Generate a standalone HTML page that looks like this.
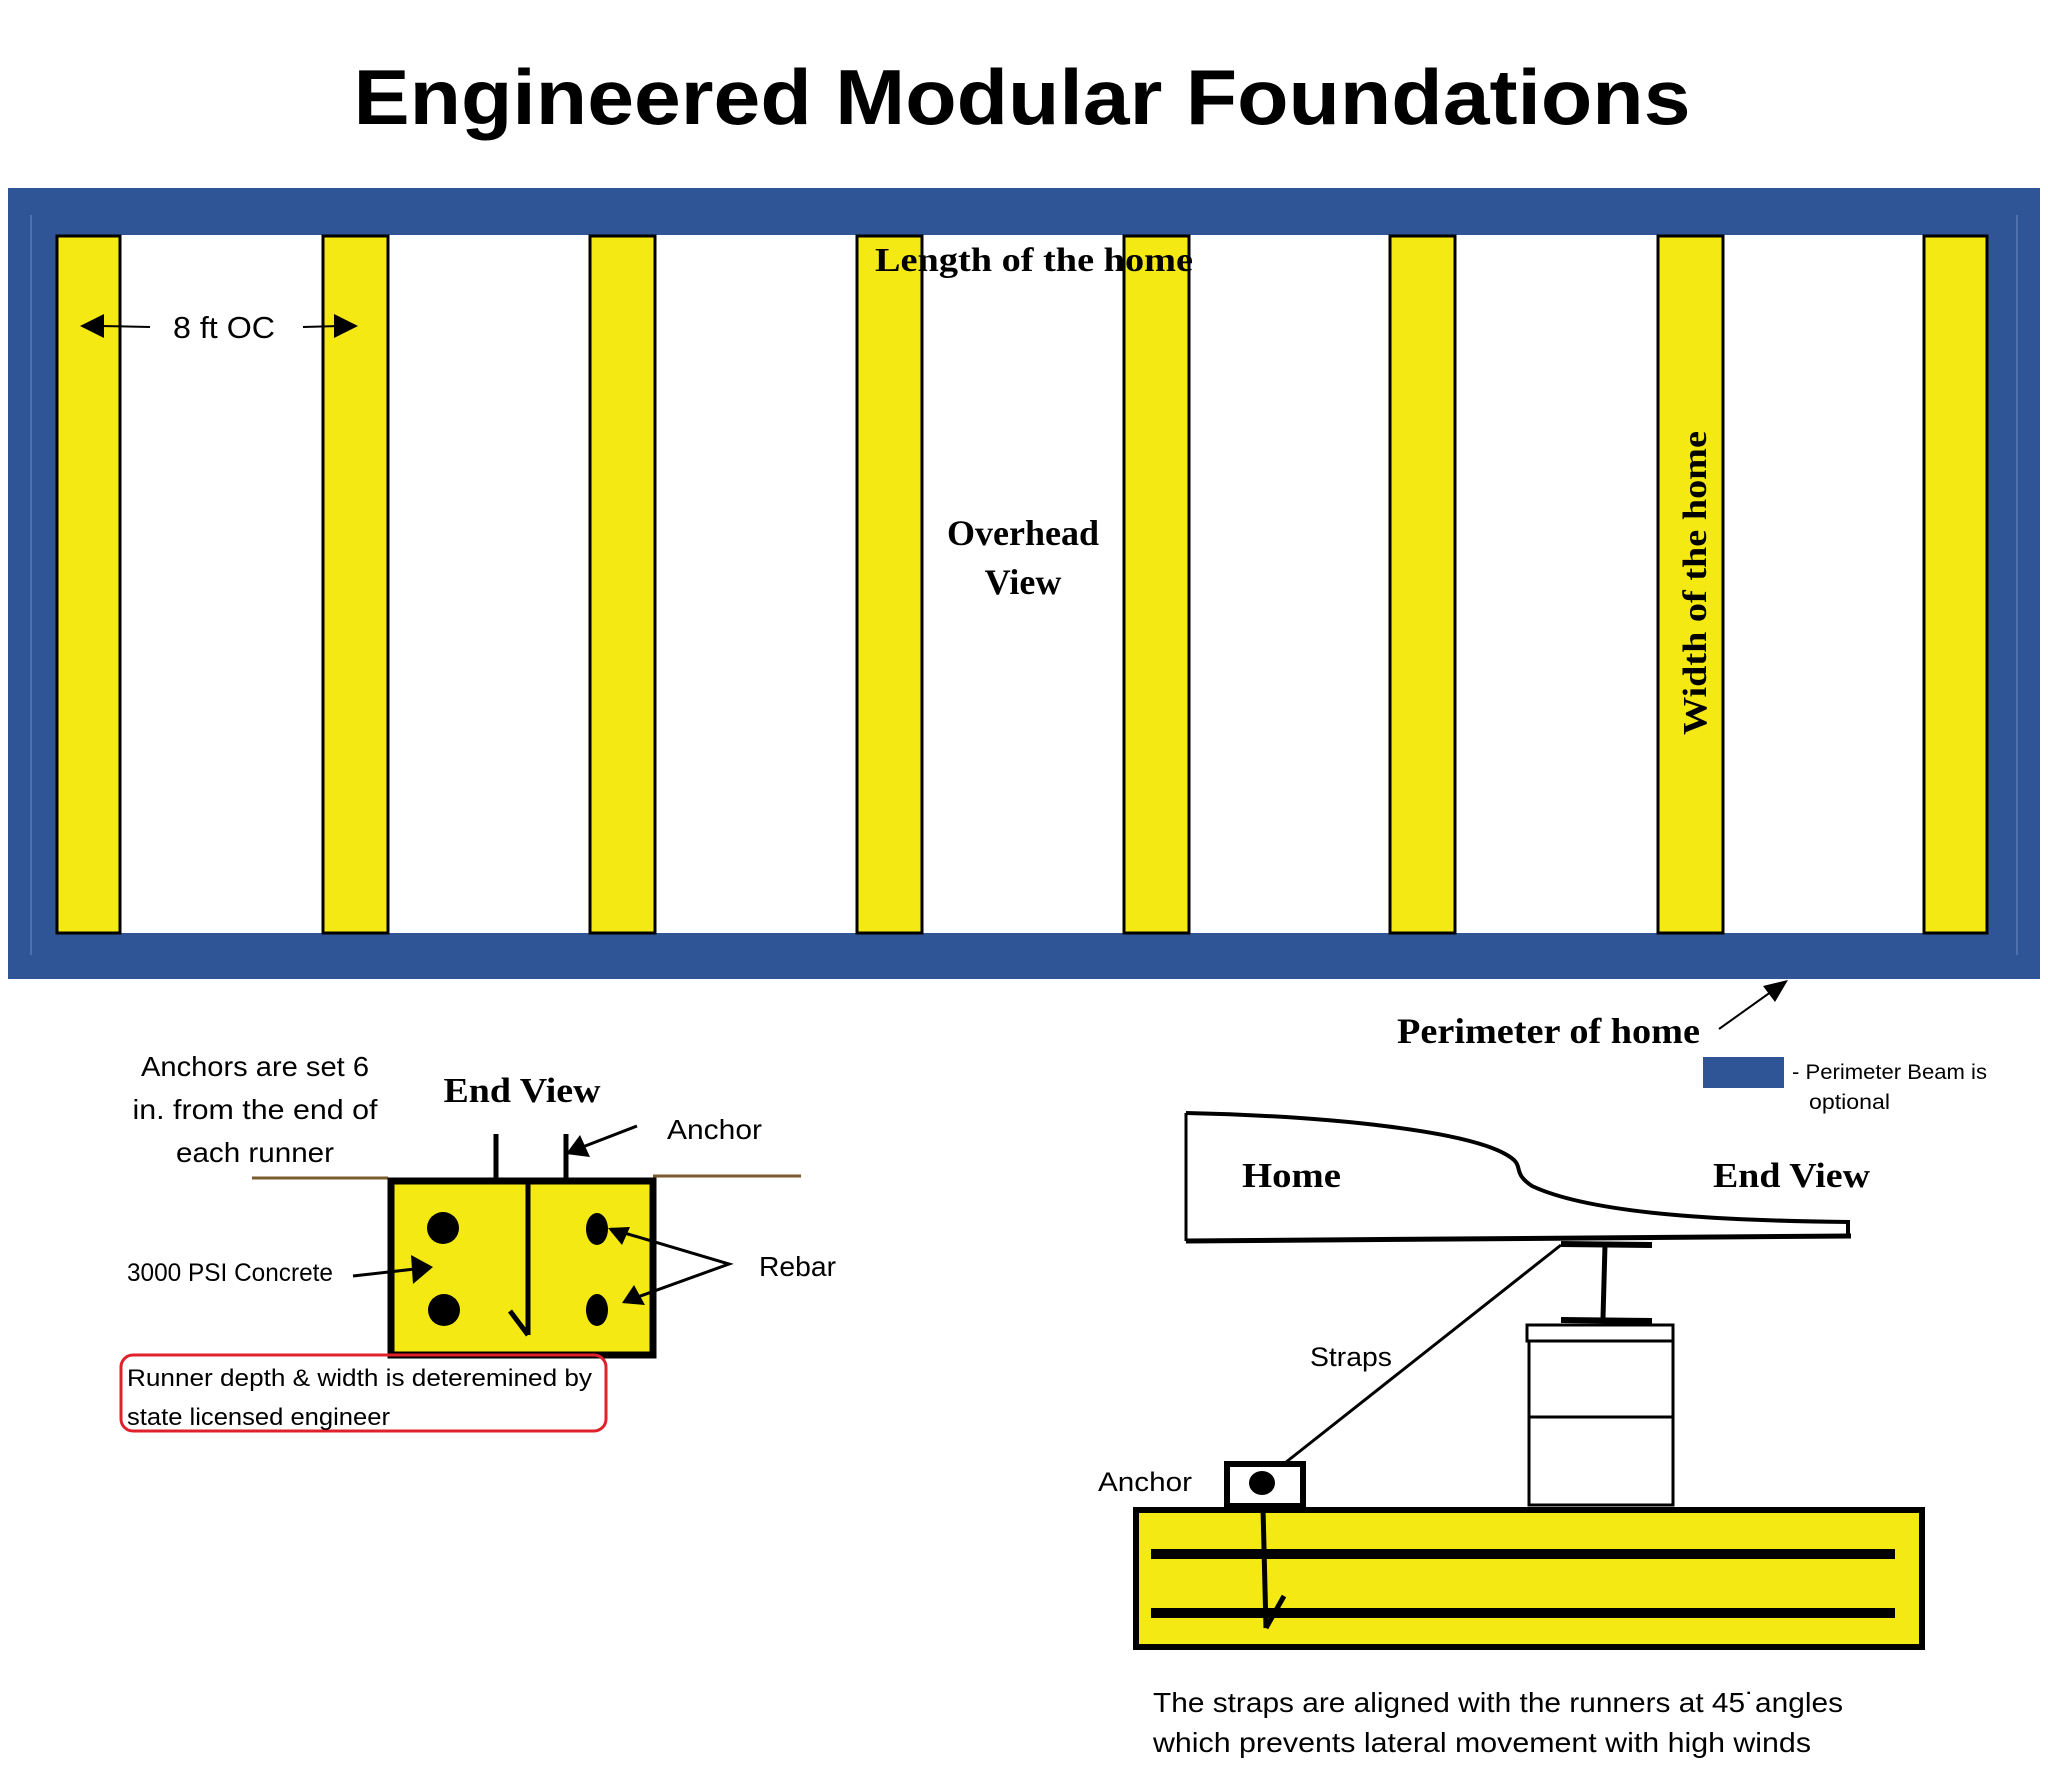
<!DOCTYPE html>
<html><head><meta charset="utf-8"><style>
html,body{margin:0;padding:0;background:#fff;}
svg{display:block;}
.sans{font-family:"Liberation Sans",sans-serif;}
.serif{font-family:"Liberation Serif",serif;font-weight:bold;}
</style></head><body>
<svg width="2048" height="1768" viewBox="0 0 2048 1768" xmlns="http://www.w3.org/2000/svg">
<defs>
<marker id="ah" markerWidth="10" markerHeight="10" refX="9" refY="5" orient="auto" markerUnits="userSpaceOnUse" viewBox="0 0 10 10">
</marker>
</defs>
<rect width="2048" height="1768" fill="#fff"/>
<!-- Title -->
<text x="1022" y="124" text-anchor="middle" class="sans" font-weight="bold" font-size="78" textLength="1337" lengthAdjust="spacingAndGlyphs">Engineered  Modular  Foundations</text>

<!-- Overhead frame -->
<rect x="8" y="188" width="2032" height="791" fill="#2f5597"/>
<line x1="31" y1="215" x2="31" y2="955" stroke="#6f8cc0" stroke-width="1"/>
<line x1="2017" y1="215" x2="2017" y2="955" stroke="#6f8cc0" stroke-width="1"/>
<rect x="57" y="235" width="1931" height="698" fill="#fff"/>
<g fill="#f5e914" stroke="#000" stroke-width="3">
<rect x="57" y="236" width="63" height="697"/>
<rect x="323" y="236" width="65" height="697"/>
<rect x="590" y="236" width="65" height="697"/>
<rect x="857" y="236" width="65" height="697"/>
<rect x="1124" y="236" width="65" height="697"/>
<rect x="1390" y="236" width="65" height="697"/>
<rect x="1658" y="236" width="65" height="697"/>
<rect x="1924" y="236" width="63" height="697"/>
</g>
<text x="875" y="271" class="serif" font-size="34" textLength="318" lengthAdjust="spacingAndGlyphs">Length of the home</text>
<text x="224" y="338" text-anchor="middle" class="sans" font-size="31" textLength="102" lengthAdjust="spacingAndGlyphs">8 ft OC</text>
<line x1="150" y1="327" x2="100" y2="326" stroke="#000" stroke-width="2"/>
<polygon points="80,326 104,314 104,338" fill="#000"/>
<line x1="303" y1="327" x2="340" y2="326" stroke="#000" stroke-width="2"/>
<polygon points="358,326 334,314 334,338" fill="#000"/>
<text x="1023" y="545" text-anchor="middle" class="serif" font-size="36">Overhead</text>
<text x="1023" y="594" text-anchor="middle" class="serif" font-size="36">View</text>
<text transform="translate(1706,735) rotate(-90)" class="serif" font-size="34" textLength="304" lengthAdjust="spacingAndGlyphs">Width of the home</text>

<!-- Perimeter -->
<line x1="1719" y1="1029" x2="1775" y2="989" stroke="#000" stroke-width="2"/>
<polygon points="1788,980 1763,986 1775,1002" fill="#000"/>
<text x="1397" y="1043" class="serif" font-size="36" textLength="303" lengthAdjust="spacingAndGlyphs">Perimeter of home</text>
<rect x="1703" y="1057" width="81" height="31" fill="#2f5597"/>
<text x="1792" y="1079" class="sans" font-size="21" textLength="195" lengthAdjust="spacingAndGlyphs">- Perimeter Beam is</text>
<text x="1809" y="1109" class="sans" font-size="21" textLength="81" lengthAdjust="spacingAndGlyphs">optional</text>

<!-- Left end view -->
<text x="255" y="1076" text-anchor="middle" class="sans" font-size="28" textLength="228" lengthAdjust="spacingAndGlyphs">Anchors are set 6</text>
<text x="255" y="1119" text-anchor="middle" class="sans" font-size="28" textLength="245" lengthAdjust="spacingAndGlyphs">in. from the end of</text>
<text x="255" y="1162" text-anchor="middle" class="sans" font-size="28" textLength="158" lengthAdjust="spacingAndGlyphs">each runner</text>
<text x="522" y="1102" text-anchor="middle" class="serif" font-size="35" textLength="157" lengthAdjust="spacingAndGlyphs">End View</text>
<text x="667" y="1139" class="sans" font-size="28" textLength="95" lengthAdjust="spacingAndGlyphs">Anchor</text>
<line x1="252" y1="1178" x2="388" y2="1178" stroke="#7a5c2e" stroke-width="3"/>
<line x1="653" y1="1176" x2="801" y2="1176" stroke="#7a5c2e" stroke-width="3"/>
<rect x="391" y="1181" width="262" height="174" fill="#f5e914" stroke="#000" stroke-width="7"/>
<line x1="496" y1="1134" x2="496" y2="1180" stroke="#000" stroke-width="5"/>
<line x1="566" y1="1134" x2="566" y2="1180" stroke="#000" stroke-width="5"/>
<line x1="528" y1="1181" x2="528" y2="1335" stroke="#000" stroke-width="5"/>
<line x1="528" y1="1335" x2="510" y2="1311" stroke="#000" stroke-width="5"/>
<ellipse cx="443" cy="1228" rx="16" ry="16" fill="#000"/>
<ellipse cx="444" cy="1310" rx="16" ry="16" fill="#000"/>
<ellipse cx="597" cy="1229" rx="11" ry="16" fill="#000"/>
<ellipse cx="597" cy="1310" rx="11" ry="16" fill="#000"/>
<line x1="637" y1="1126" x2="580" y2="1148" stroke="#000" stroke-width="3"/>
<polygon points="566,1154 580,1135 590,1157" fill="#000"/>
<text x="759" y="1276" class="sans" font-size="28" textLength="77" lengthAdjust="spacingAndGlyphs">Rebar</text>
<polyline points="611,1229 729,1264 624,1302" fill="none" stroke="#000" stroke-width="3"/>
<polygon points="608,1228 630,1227 622,1245" fill="#000"/>
<polygon points="622,1303 634,1285 645,1305" fill="#000"/>
<text x="127" y="1281" class="sans" font-size="25" textLength="206" lengthAdjust="spacingAndGlyphs">3000 PSI Concrete</text>
<line x1="353" y1="1276" x2="415" y2="1269" stroke="#000" stroke-width="3"/>
<polygon points="433,1267 411,1255 413,1284" fill="#000"/>
<rect x="121" y="1355" width="485" height="76" rx="12" fill="none" stroke="#e0202a" stroke-width="3"/>
<text x="127" y="1386" class="sans" font-size="24" textLength="465" lengthAdjust="spacingAndGlyphs">Runner depth &amp; width is deteremined by</text>
<text x="127" y="1425" class="sans" font-size="24" textLength="263" lengthAdjust="spacingAndGlyphs">state licensed engineer</text>

<!-- Right end view -->
<path d="M1186,1113 C1320,1116 1480,1130 1514,1160 C1522,1168 1514,1174 1532,1186 C1600,1218 1760,1221 1850,1222" fill="none" stroke="#000" stroke-width="4"/>
<line x1="1186" y1="1113" x2="1186" y2="1241" stroke="#000" stroke-width="3"/>
<line x1="1186" y1="1241" x2="1851" y2="1236" stroke="#000" stroke-width="5"/>
<line x1="1848" y1="1222" x2="1848" y2="1236" stroke="#000" stroke-width="4"/>
<text x="1242" y="1187" class="serif" font-size="35" textLength="99" lengthAdjust="spacingAndGlyphs">Home</text>
<text x="1713" y="1187" class="serif" font-size="35" textLength="157" lengthAdjust="spacingAndGlyphs">End View</text>
<line x1="1561" y1="1244" x2="1652" y2="1245" stroke="#000" stroke-width="6"/>
<line x1="1605" y1="1245" x2="1603" y2="1318" stroke="#000" stroke-width="5"/>
<line x1="1561" y1="1320" x2="1652" y2="1321" stroke="#000" stroke-width="6"/>
<rect x="1527" y="1325" width="146" height="16" fill="#fff" stroke="#000" stroke-width="3"/>
<rect x="1529" y="1341" width="144" height="164" fill="#fff" stroke="#000" stroke-width="3"/>
<line x1="1529" y1="1417" x2="1673" y2="1417" stroke="#000" stroke-width="3"/>
<line x1="1561" y1="1245" x2="1271" y2="1474" stroke="#000" stroke-width="3"/>
<text x="1310" y="1366" class="sans" font-size="27" textLength="82" lengthAdjust="spacingAndGlyphs">Straps</text>
<text x="1098" y="1491" class="sans" font-size="27" textLength="94" lengthAdjust="spacingAndGlyphs">Anchor</text>
<rect x="1227" y="1464" width="76" height="42" fill="#fff" stroke="#000" stroke-width="6"/>
<ellipse cx="1262" cy="1483" rx="13" ry="12" fill="#000"/>
<rect x="1136" y="1510" width="786" height="137" fill="#f5e914" stroke="#000" stroke-width="6"/>
<line x1="1151" y1="1554" x2="1895" y2="1554" stroke="#000" stroke-width="10"/>
<line x1="1151" y1="1613" x2="1895" y2="1613" stroke="#000" stroke-width="10"/>
<line x1="1263" y1="1508" x2="1266" y2="1628" stroke="#000" stroke-width="5"/>
<line x1="1266" y1="1628" x2="1284" y2="1596" stroke="#000" stroke-width="5"/>
<text x="1153" y="1712" class="sans" font-size="28" textLength="690" lengthAdjust="spacingAndGlyphs">The straps are aligned with the runners at 45˙angles</text>
<text x="1153" y="1752" class="sans" font-size="28" textLength="658" lengthAdjust="spacingAndGlyphs">which prevents lateral movement with high winds</text>
</svg>
</body></html>
